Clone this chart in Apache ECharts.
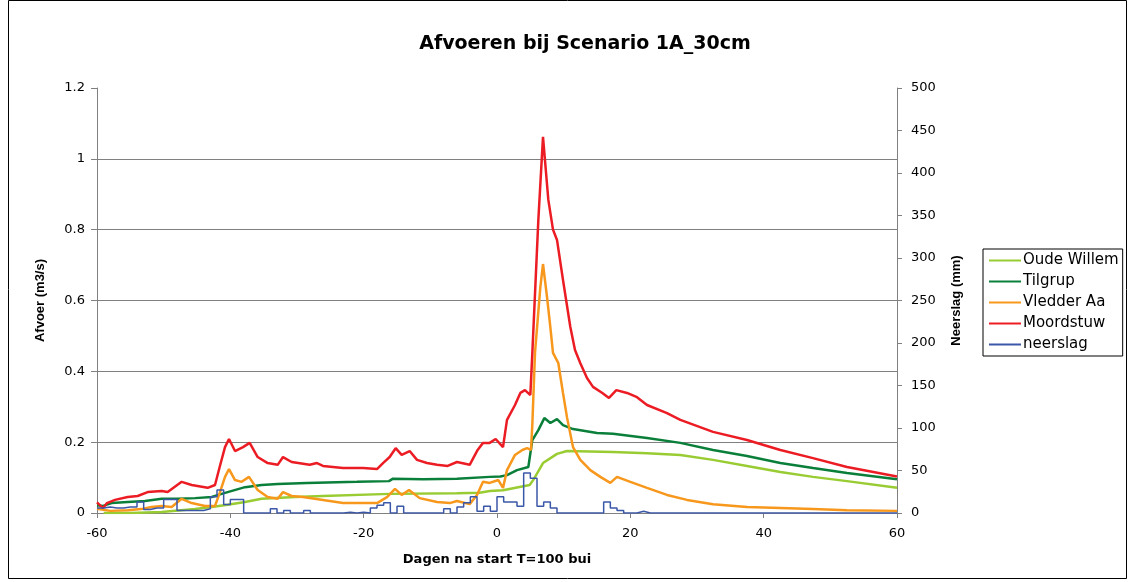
<!DOCTYPE html>
<html>
<head>
<meta charset="utf-8">
<script src="https://cdn.jsdelivr.net/npm/echarts@6/dist/echarts.min.js"></script>
<style>
html,body{margin:0;padding:0;background:#fff;}
#chart{width:1129px;height:582px;}
</style>
</head>
<body>
<div id="chart"></div>
<script>
// ---- data ----
const xTicks = [-60, -40, -20, 0, 20, 40, 60];

const oudeWillemDays = [-59, -55, -50.3, -45.3, -42.8, -40.4, -37.8, -35.3, -30.3, -26.1, -16.1, -6, -2.6, -1.1, 0.9, 4.9, 5.5, 6.9, 9, 10.5, 17.4, 22.5, 27.5, 32.4, 37.5, 42.5, 47.4, 52.5, 60];
const oudeWillemVals = [0.0, 0.0, 0.003, 0.011, 0.017, 0.023, 0.031, 0.04, 0.045, 0.048, 0.054, 0.056, 0.057, 0.062, 0.064, 0.079, 0.095, 0.141, 0.167, 0.175, 0.172, 0.169, 0.164, 0.15, 0.133, 0.116, 0.102, 0.09, 0.071];

const tilgrupDays = [-60, -59.1, -57.8, -55.4, -52.8, -50.3, -47.9, -45.3, -42.8, -41.3, -40.4, -37.8, -35.3, -32.9, -28.5, -21, -16.2, -15.6, -11.1, -6, -1.1, 0.5, 1.5, 3, 4.7, 5.0, 5.3, 6.2, 7.1, 8, 9, 9.9, 11.4, 15, 17.4, 22.5, 27.5, 32.4, 37.5, 42.5, 47.4, 52.5, 60];
const tilgrupVals = [0.022, 0.02, 0.028, 0.031, 0.034, 0.04, 0.04, 0.042, 0.045, 0.054, 0.059, 0.073, 0.079, 0.082, 0.085, 0.088, 0.09, 0.097, 0.095, 0.097, 0.102, 0.103, 0.107, 0.121, 0.13, 0.135, 0.206, 0.234, 0.268, 0.254, 0.265, 0.248, 0.237, 0.226, 0.224, 0.212, 0.198, 0.178, 0.161, 0.141, 0.127, 0.113, 0.095];

const vledderDays = [-60, -58, -55.4, -53.4, -51.8, -50.3, -48.8, -47.3, -45.8, -43.8, -42.3, -41.6, -40.8, -40.2, -39.3, -38.3, -37.2, -35.9, -34.4, -32.9, -32.1, -30.8, -29.1, -26.1, -23.1, -18, -16.5, -15.3, -14.3, -13.2, -11.6, -9, -7.1, -6, -4.1, -3, -2.1, -1.1, 0.2, 0.9, 1.5, 2.7, 3.8, 4.5, 5.1, 5.3, 5.7, 6.5, 6.9, 7.5, 8, 8.4, 9.2, 9.9, 10.5, 11.4, 12.5, 14, 15.5, 17, 18, 20, 22.5, 25.5, 28.5, 32.4, 37.5, 42.5, 47.4, 52.5, 60];
const vledderVals = [0.012, 0.006, 0.008, 0.011, 0.017, 0.02, 0.017, 0.04, 0.028, 0.02, 0.02, 0.056, 0.102, 0.124, 0.093, 0.088, 0.102, 0.065, 0.045, 0.04, 0.059, 0.048, 0.045, 0.037, 0.028, 0.028, 0.045, 0.068, 0.051, 0.065, 0.042, 0.031, 0.028, 0.034, 0.025, 0.051, 0.088, 0.085, 0.093, 0.071, 0.121, 0.164, 0.178, 0.183, 0.178, 0.25, 0.452, 0.638, 0.703, 0.61, 0.525, 0.452, 0.423, 0.339, 0.27, 0.186, 0.15, 0.121, 0.102, 0.085, 0.102, 0.088, 0.071, 0.051, 0.037, 0.025, 0.017, 0.014, 0.011, 0.008, 0.006];

const moordDays = [-60, -59.1, -58.5, -57.3, -55.4, -53.9, -52.4, -50.3, -49.4, -47.3, -45.8, -43.4, -42.3, -41.6, -40.8, -40.2, -39.3, -38.1, -37.1, -35.9, -34.4, -32.9, -32.1, -30.8, -28.1, -27, -26.1, -23.1, -20.1, -18, -17.1, -16.1, -15.2, -14.3, -13.1, -12, -10.5, -9, -7.4, -6, -4.1, -2.9, -2.1, -1.1, -0.2, 0.9, 1.5, 2.7, 3.5, 4.2, 5, 5.3, 6.2, 6.9, 7.7, 8.4, 9, 9.9, 11, 11.7, 12.5, 13.5, 14.4, 15.8, 16.8, 17.9, 19.5, 21, 22.5, 25.5, 27.5, 32.4, 37.5, 42.5, 47.4, 52.5, 60];
const moordVals = [0.03, 0.014, 0.028, 0.037, 0.045, 0.048, 0.059, 0.062, 0.059, 0.088, 0.079, 0.071, 0.079, 0.13, 0.186, 0.209, 0.175, 0.186, 0.198, 0.158, 0.141, 0.136, 0.158, 0.144, 0.136, 0.141, 0.133, 0.127, 0.127, 0.124, 0.141, 0.158, 0.183, 0.164, 0.175, 0.15, 0.141, 0.136, 0.133, 0.144, 0.136, 0.178, 0.198, 0.198, 0.209, 0.186, 0.263, 0.305, 0.339, 0.347, 0.333, 0.452, 0.827, 1.062, 0.884, 0.8, 0.771, 0.658, 0.525, 0.46, 0.423, 0.381, 0.356, 0.339, 0.325, 0.347, 0.339, 0.327, 0.305, 0.282, 0.263, 0.229, 0.206, 0.178, 0.155, 0.13, 0.103];

// daily rainfall (mm), value holds for [day, day+1)
const rainDays = [];
for (let d = -60; d <= 60; d++) rainDays.push(d);
const rainVals = [
  6, 7, 6, 6, 7, 7, 13, 4, 6, 6,        // -60..-51
  16, 16, 3, 3, 3, 3, 5, 19, 27, 10,    // -50..-41
  16, 16, 0, 0, 0, 0, 5, 0, 3, 0,       // -40..-31
  0, 3, 0, 0, 0, 0, 0, 1, 0, 1,         // -30..-21
  0, 6, 9, 12, 0, 8, 0, 0, 0, 0,        // -20..-11
  0, 0, 5, 0, 7, 12, 19, 2, 8, 2,       // -10..-1
  19, 13, 13, 8, 47, 41, 8, 13, 6, 0,   // 0..9
  0, 0, 0, 0, 0, 0, 13, 6, 3, 0,        // 10..19
  0, 2, 0, 0, 0, 0, 0, 0, 0, 0,         // 20..29
  0, 0, 0, 0, 0, 0, 0, 0, 0, 0,         // 30..39
  0, 0, 0, 0, 0, 0, 0, 0, 0, 0,         // 40..49
  0, 0, 0, 0, 0, 0, 0, 0, 0, 0,         // 50..59
  0                                     // 60
];

function pairs(xs, ys) { return xs.map((x, i) => [x, ys[i]]); }

const chart = echarts.init(document.getElementById('chart'), null, {renderer: 'canvas'});
const FONT = '"DejaVu Sans", Verdana, sans-serif';
const VFONT = '"Liberation Sans", Arial, sans-serif';
const axisGray = '#808080';

chart.setOption({
  animation: false,
  backgroundColor: '#ffffff',
  textStyle: {fontFamily: FONT},
  title: {
    text: 'Afvoeren bij Scenario 1A_30cm',
    left: 580, top: 30, textAlign: 'center',
    textStyle: {fontSize: 19, fontWeight: 'bold', color: '#000', fontFamily: FONT}
  },
  graphic: [{
    type: 'rect', silent: true,
    shape: {x: 8.5, y: 0.5, width: 1118, height: 578},
    style: {fill: 'none', stroke: '#000', lineWidth: 1}
  }],
  legend: {
    orient: 'vertical', left: 983, top: 249,
    itemWidth: 32, itemHeight: 14, itemGap: 6,
    padding: [4, 4, 4, 5],
    borderColor: '#000', borderWidth: 1,
    itemStyle: {opacity: 0},
    textStyle: {fontSize: 15, color: '#000', fontFamily: FONT, padding: [0, 0, 0, -3]},
    data: ['Oude Willem', 'Tilgrup', 'Vledder Aa', 'Moordstuw', 'neerslag']
  },
  grid: {left: 97, right: 232, top: 88, bottom: 69, containLabel: false},
  xAxis: {
    type: 'value', min: -60, max: 60, interval: 20,
    name: 'Dagen na start T=100 bui', nameLocation: 'middle', nameGap: 40,
    nameTextStyle: {fontSize: 13, fontWeight: 'bold', color: '#000', fontFamily: FONT},
    axisLine: {show: true, onZero: false, lineStyle: {color: axisGray, width: 1}},
    axisTick: {show: true, inside: false, length: 5, lineStyle: {color: axisGray}},
    axisLabel: {fontSize: 13, color: '#000', margin: 14, fontFamily: FONT},
    splitLine: {show: false}
  },
  yAxis: [{
    type: 'value', min: 0, max: 1.2, interval: 0.2, position: 'left',
    name: 'Afvoer (m3/s)', nameLocation: 'middle', nameGap: 50, nameRotate: 90,
    nameTextStyle: {fontSize: 13, fontWeight: 'bold', color: '#000', fontFamily: VFONT},
    axisLine: {show: true, onZero: false, lineStyle: {color: axisGray, width: 1}},
    axisTick: {show: true, length: 6, lineStyle: {color: axisGray}},
    axisLabel: {fontSize: 13, color: '#000', margin: 12, fontFamily: FONT, formatter: v => String(Math.round(v * 10) / 10)},
    splitLine: {show: true, showMinLine: false, showMaxLine: false, lineStyle: {color: axisGray, width: 1}}
  }, {
    type: 'value', min: 0, max: 500, interval: 50, position: 'right',
    name: 'Neerslag (mm)', nameLocation: 'middle', nameGap: 53, nameRotate: 90,
    nameTextStyle: {fontSize: 13, fontWeight: 'bold', color: '#000', fontFamily: VFONT},
    axisLine: {show: true, onZero: false, lineStyle: {color: axisGray, width: 1}},
    axisTick: {show: true, length: 5, lineStyle: {color: axisGray}},
    axisLabel: {fontSize: 13, color: '#000', margin: 14, fontFamily: FONT},
    splitLine: {show: false}
  }],
  series: [{
    name: 'Oude Willem', type: 'line', yAxisIndex: 0, symbol: 'none',
    lineStyle: {color: '#99CC33', width: 2.5}, itemStyle: {color: '#99CC33'},
    data: pairs(oudeWillemDays, oudeWillemVals)
  }, {
    name: 'Tilgrup', type: 'line', yAxisIndex: 0, symbol: 'none',
    lineStyle: {color: '#0A7F3A', width: 2.5}, itemStyle: {color: '#0A7F3A'},
    data: pairs(tilgrupDays, tilgrupVals)
  }, {
    name: 'Vledder Aa', type: 'line', yAxisIndex: 0, symbol: 'none',
    lineStyle: {color: '#F7981D', width: 2.5}, itemStyle: {color: '#F7981D'},
    data: pairs(vledderDays, vledderVals)
  }, {
    name: 'Moordstuw', type: 'line', yAxisIndex: 0, symbol: 'none',
    lineStyle: {color: '#EC1C24', width: 2.5}, itemStyle: {color: '#EC1C24'},
    data: pairs(moordDays, moordVals)
  }, {
    name: 'neerslag', type: 'line', yAxisIndex: 1, symbol: 'none', step: 'end',
    lineStyle: {color: '#3B57A8', width: 1.5}, itemStyle: {color: '#3B57A8'},
    data: pairs(rainDays, rainVals)
  }]
});
</script>
</body>
</html>
